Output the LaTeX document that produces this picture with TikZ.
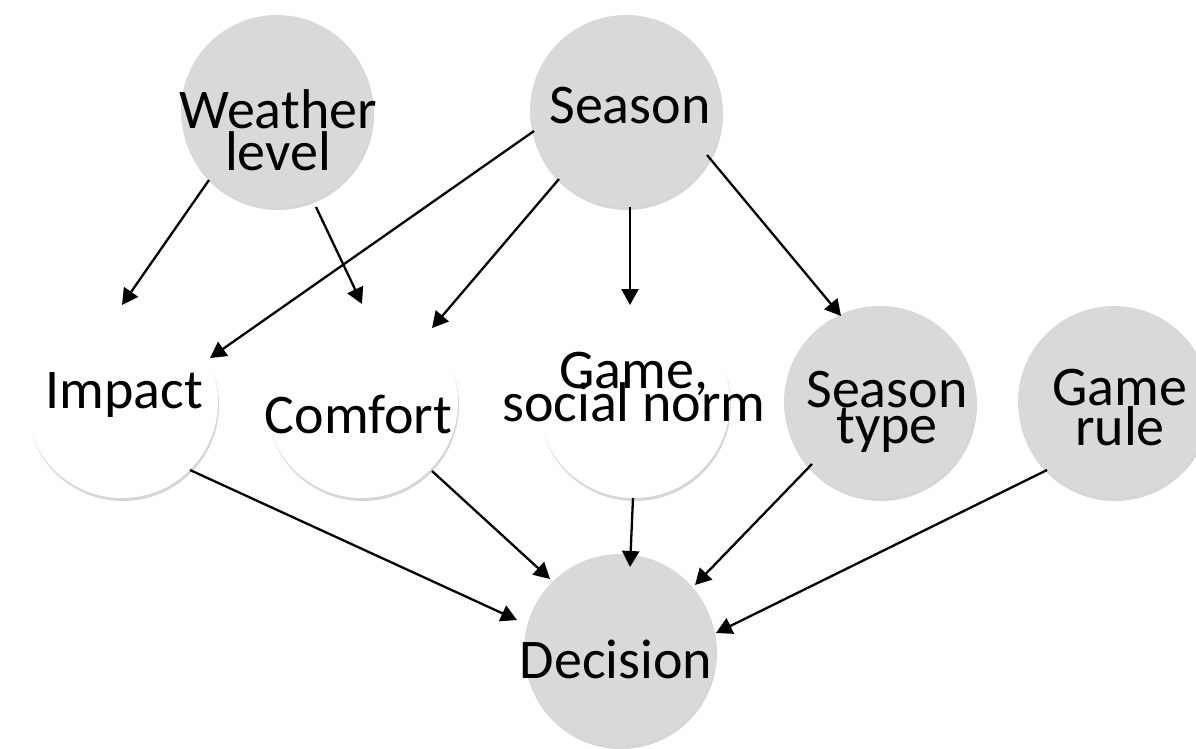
\documentclass[tikz,border=0pt]{standalone}
\usepackage{fontspec}
\setmainfont{Carlito}
\usetikzlibrary{arrows.meta,shadows,calc}
\definecolor{ngray}{RGB}{217,217,217}
% #1 = twice the horizontal text offset, #2 = first-baseline offset below centre, #3 = baseline spacing, #4 = lines
\newcommand{\lbl}[4]{\raisebox{-#2pt}[0pt][0pt]{\makebox[0pt]{\hspace*{#1pt}\vtop{\baselineskip=#3pt\lineskiplimit=-1000pt\lineskip=0pt\halign{\hfil##\hfil\cr#4\crcr}}}}}
\tikzset{
  bnode/.style={circle, minimum size=192pt, inner sep=0pt, outer sep=0pt,
    font=\fontsize{56pt}{60pt}\selectfont,
    drop shadow={shadow xshift=1pt, shadow yshift=-3pt, opacity=0.16, fill=black}},
  gnode/.style={bnode, fill=ngray},
  wnode/.style={bnode, fill=white},
  arr/.style={-{Triangle[length=16pt,width=17pt]}, line width=2.3pt, black}
}
\begin{document}
\begin{tikzpicture}[x=1pt,y=-1pt]
\path[use as bounding box] (0,0) rectangle (1196,748);
\clip (0,0) rectangle (1196,748);
\fill[white] (0,0) rectangle (1196,748);
% nodes
\node[gnode] (wl)  at (277,111) {\lbl{2}{17}{42}{Weather\cr level}};
\node[gnode] (sea) at (626,111) {\lbl{8}{12}{32}{Season}};
\node[wnode] (imp) at (122,402) {\lbl{4}{6}{32}{Impact}};
\node[wnode] (com) at (362,402) {\lbl{-7}{31}{32}{Comfort}};
\node[wnode] (gsn) at (634,402) {\lbl{0}{-14}{33}{Game,\cr social norm}};
\node[gnode] (st)  at (880,402) {\lbl{14}{5}{36}{Season\cr type}};
\node[gnode] (gr)  at (1114,402) {\lbl{12}{3}{40}{Game\cr rule}};
\node[gnode] (dec) at (620,650) {\lbl{-8}{28}{32}{Decision}};
% connectors
\draw[arr] ($(wl)+(-68,69)$) -- ($(imp)+(0,-97)$);
\draw[arr] ($(wl)+(39,96)$) -- ($(com)+(0,-98)$);
\draw[arr] ($(sea)+(-92,20)$) -- ($(imp)+(88,-44)$);
\draw[arr] ($(sea)+(-67,68)$) -- ($(com)+(70,-74)$);
\draw[arr] ($(sea)+(4,96)$) -- ($(gsn)+(-4,-97)$);
\draw[arr] ($(sea)+(81,44)$) -- ($(st)+(-39,-86)$);
\draw[arr] ($(imp)+(68,68)$) -- ($(dec)+(-103,-30)$);
\draw[arr] ($(com)+(70,69)$) -- ($(dec)+(-70,-71)$);
\draw[arr] ($(gsn)+(-1,96)$) -- ($(dec)+(10,-83)$);
\draw[arr] ($(st)+(-68,62)$) -- ($(dec)+(75,-65)$);
\draw[arr] ($(gr)+(-67,68)$) -- ($(dec)+(96,-17)$);
\end{tikzpicture}
\end{document}
